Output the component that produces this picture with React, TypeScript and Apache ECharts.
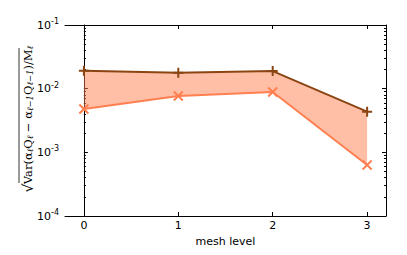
import React, { useEffect, useRef } from "react";
import * as echarts from "echarts";

const levels = [0, 1, 2, 3];
const upperValues = [0.0192, 0.0178, 0.0189, 0.00435];
const lowerValues = [0.0048, 0.00767, 0.00887, 0.000634];
const majorTicks = [1e-4, 1e-3, 1e-2, 1e-1];
const majorLabels = ["-4", "-3", "-2", "-1"];
const minorTicks: number[] = [];
[-4, -3, -2].forEach((e) => {
  for (let m = 2; m <= 9; m++) minorTicks.push(m * Math.pow(10, e));
});

const FONT = "DejaVu Sans";
const UPPER = "#8B4513";
const LOWER = "#FF7F50";
const FILL = "rgba(255,127,80,0.5)";

export default function App() {
  const ref = useRef<HTMLDivElement>(null);
  useEffect(() => {
    const chart = echarts.init(ref.current!, null, { renderer: "svg" });
    const grid = { left: 65, right: 21, top: 25, bottom: 39 };
    const yBase = {
      type: "log",
      logBase: 10,
      min: 1e-4,
      max: 1e-1,
      splitLine: { show: false },
      minorTick: { show: false },
    };
    const plusSym = "path://M0,-5 L0,5 M-5,0 L5,0";
    const xSym = "path://M-5,-5 L5,5 M-5,5 L5,-5";
    chart.setOption({
      animation: false,
      grid,
      xAxis: [
        {
          type: "value",
          min: -0.2,
          max: 3.2,
          position: "bottom",
          splitLine: { show: false },
          axisLine: { show: true, lineStyle: { color: "#000", width: 1 } },
          axisTick: { show: true, inside: true, length: 4, lineStyle: { color: "#000" }, customValues: levels },
          axisLabel: {
            show: true,
            customValues: levels,
            color: "#000",
            fontFamily: FONT,
            fontSize: 11,
            margin: 4,
          },
          name: "mesh level",
          nameLocation: "middle",
          nameGap: 19,
          nameTextStyle: { color: "#000", fontFamily: FONT, fontSize: 11 },
        },
        {
          type: "value",
          min: -0.2,
          max: 3.2,
          position: "top",
          splitLine: { show: false },
          axisLine: { show: true, lineStyle: { color: "#000", width: 1 } },
          axisTick: { show: true, inside: true, length: 4, lineStyle: { color: "#000" }, customValues: levels },
          axisLabel: { show: false },
        },
      ],
      yAxis: [
        {
          ...yBase,
          position: "left",
          axisLine: { show: true, lineStyle: { color: "#000", width: 1 } },
          axisTick: { show: true, inside: true, length: 4, lineStyle: { color: "#000" }, customValues: majorTicks },
          axisLabel: {
            show: true,
            customValues: majorTicks,
            margin: 6,
            formatter: (v: number) => {
              const idx = majorTicks.findIndex((t) => Math.abs(Math.log10(t) - Math.log10(v)) < 1e-6);
              return "{b|10}{s|" + (idx >= 0 ? majorLabels[idx] : "") + "}";
            },
            rich: {
              b: { fontFamily: FONT, fontSize: 11, color: "#000" },
              s: { fontFamily: FONT, fontSize: 8, color: "#000", verticalAlign: "top", padding: [0, 0, 7, 0] },
            },
          },
        },
        {
          ...yBase,
          position: "left",
          axisLine: { show: false },
          axisTick: { show: true, inside: true, length: 2, lineStyle: { color: "#000" }, customValues: minorTicks },
          axisLabel: { show: false },
        },
        {
          ...yBase,
          position: "right",
          axisLine: { show: true, lineStyle: { color: "#000", width: 1 } },
          axisTick: { show: true, inside: true, length: 4, lineStyle: { color: "#000" }, customValues: majorTicks },
          axisLabel: { show: false },
        },
        {
          ...yBase,
          position: "right",
          axisLine: { show: false },
          axisTick: { show: true, inside: true, length: 2, lineStyle: { color: "#000" }, customValues: minorTicks },
          axisLabel: { show: false },
        },
      ],
      series: [
        {
          type: "custom",
          xAxisIndex: 0,
          yAxisIndex: 0,
          data: [0],
          z: 1,
          renderItem: (params: any, api: any) => {
            const pts: number[][] = [];
            levels.forEach((l, i) => pts.push(api.coord([l, upperValues[i]])));
            for (let i = levels.length - 1; i >= 0; i--) pts.push(api.coord([levels[i], lowerValues[i]]));
            return {
              type: "polygon",
              shape: { points: pts },
              style: { fill: FILL, stroke: "none" },
            };
          },
        },
        {
          type: "line",
          xAxisIndex: 0,
          yAxisIndex: 0,
          data: levels.map((l, i) => [l, upperValues[i]]),
          lineStyle: { color: UPPER, width: 2 },
          symbol: plusSym,
          symbolSize: 10,
          showAllSymbol: true,
          itemStyle: { color: "transparent", borderColor: UPPER, borderWidth: 2 },
          z: 3,
        },
        {
          type: "line",
          xAxisIndex: 0,
          yAxisIndex: 0,
          data: levels.map((l, i) => [l, lowerValues[i]]),
          lineStyle: { color: LOWER, width: 2 },
          symbol: xSym,
          symbolSize: 9,
          showAllSymbol: true,
          itemStyle: { color: "transparent", borderColor: LOWER, borderWidth: 2 },
          z: 3,
        },
      ],
      graphic: [
        {
          type: "group",
          x: 28,
          y: 121,
          rotation: Math.PI / 2,
          children: [
            {
              type: "text",
              x: 6,
              y: 0,
              style: {
                text:
                  "{r|Var(α}{u|ℓ}{r|Q}{u|ℓ}{r| − α}{u|ℓ−1}{r|Q}{u|ℓ−1}{r|)/M}{u|ℓ}",
                align: "center",
                verticalAlign: "middle",
                rich: {
                  r: { fontFamily: "DejaVu Serif", fontSize: 11.5, fontStyle: "normal", fill: "#000" },
                  u: { fontFamily: "DejaVu Serif", fontSize: 8.5, fontStyle: "italic", fill: "#000", verticalAlign: "bottom", padding: [3, 0, 0, 0] },
                },
              },
            },
            {
              type: "text",
              x: -67,
              y: 0,
              style: {
                text: "√",
                align: "center",
                verticalAlign: "middle",
                fontFamily: "DejaVu Serif",
                fontSize: 14,
                fill: "#000",
              },
            },
            {
              type: "line",
              shape: { x1: -62, y1: -9, x2: 73, y2: -9 },
              style: { stroke: "#000", lineWidth: 0.8 },
            },
          ],
        },
      ],
    });
    return () => chart.dispose();
  }, []);
  return <div ref={ref} style={{ width: 407, height: 255, position: "absolute", left: 0, top: 0 }} />;
}
